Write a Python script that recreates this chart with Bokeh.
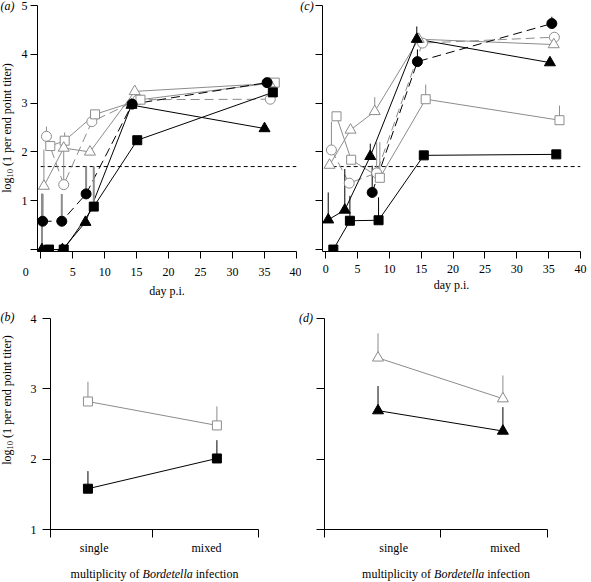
import math
from bokeh.plotting import figure
from bokeh.layouts import row, column
from bokeh.models import FixedTicker, Div
from bokeh.embed import file_html
from bokeh.resources import INLINE

NaN = float("nan")

# ---------------- panel (a) : day p.i. vs log10 titer ----------------
a_fc_day = [0.3, 3.3, 7.1, 14.3, 35.4]
a_fc_val = [0.58, 0.58, 1.14, 2.98, 3.42]
a_fc_err = [1.14, 1.14, 1.70, NaN, NaN]
a_fs_day = [1.3, 3.6, 8.3, 15.1, 36.3]
a_fs_val = [0.0, 0.0, 0.88, 2.24, 3.22]
a_fs_err = [NaN, NaN, 1.70, NaN, NaN]
a_ft_day = [0.2, 3.4, 7.0, 14.2, 35.0]
a_ft_val = [0.0, 0.0, 0.56, 2.96, 2.48]
a_ft_err = [1.15, NaN, NaN, NaN, NaN]
a_oc_day = [0.9, 3.6, 8.0, 15.2, 35.9]
a_oc_val = [2.32, 1.33, 2.62, 3.07, 3.08]
a_oc_err = [2.52, 2.05, NaN, NaN, NaN]
a_os_day = [1.5, 3.75, 8.5, 15.6, 36.6]
a_os_val = [2.12, 2.23, 2.77, 3.07, 3.42]
a_os_err = [NaN, 2.40, NaN, NaN, NaN]
a_ot_day = [0.5, 3.6, 7.7, 14.7, 35.8]
a_ot_val = [1.30, 2.08, 2.00, 3.24, 3.40]
a_ot_err = [2.05, NaN, NaN, NaN, NaN]

# ---------------- panel (c) ----------------
c_fc_day = [7.3, 14.4, 35.5]
c_fc_val = [1.17, 3.85, 4.63]
c_fc_err = [1.72, 4.10, 4.77]
c_fs_day = [1.2, 3.8, 8.3, 15.4, 36.2]
c_fs_val = [0.0, 0.59, 0.60, 1.93, 1.95]
c_fs_err = [NaN, 1.10, 1.07, NaN, NaN]
c_ft_day = [0.4, 3.0, 7.0, 14.3, 35.2]
c_ft_val = [0.61, 0.81, 1.91, 4.31, 3.83]
c_ft_err = [1.17, 1.65, 2.17, 4.57, NaN]
c_oc_day = [0.9, 3.7, 8.0, 15.2, 35.9]
c_oc_val = [2.04, 1.36, 1.57, 4.23, 4.35]
c_oc_err = [2.62, NaN, 2.20, NaN, NaN]
c_os_day = [1.7, 4.0, 8.5, 15.7, 36.7]
c_os_val = [2.73, 1.84, 1.47, 3.08, 2.65]
c_os_err = [NaN, NaN, 2.20, 3.38, 2.95]
c_ot_day = [0.6, 3.9, 7.7, 14.6, 35.8]
c_ot_val = [1.73, 2.45, 2.83, 4.31, 4.20]
c_ot_err = [NaN, NaN, 3.12, NaN, NaN]

detection_limit = 1.7
limit_days = [0, 40]
day_ticks = [0, 5, 10, 15, 20, 25, 30, 35, 40]
titer_ticks = [0, 1, 2, 3, 4, 5]

# ---------------- panels (b) and (d) : multiplicity ----------------
mult_labels = ["single", "mixed"]
b_open_val = [2.82, 2.48]
b_open_err = [3.10, 2.75]
b_fill_val = [1.58, 2.01]
b_fill_err = [1.83, 2.27]
d_open_val = [3.44, 2.86]
d_open_err = [3.79, 3.19]
d_fill_val = [2.69, 2.40]
d_fill_err = [3.04, 2.74]
mult_titer_ticks = [1, 2, 3, 4]

# ---------------- texts ----------------
Y_TITLE_HTML = "log<sub style='font-size:8.5px;vertical-align:-2px'>10</sub> (1 per end point titer)"
X_TITLE_TIME = "day p.i."
X_TITLE_MULT_HTML = "multiplicity of <i>Bordetella</i> infection"

# ---------------- styling / layout (not data) ----------------
FONT = "Liberation Serif"
FS = "12px"
GREY = "#8c8c8c"
DASH = "9 5"
SIZES = {"circle": 10, "square": 9, "triangle": 11}
NBSP = "\u00a0"
b_pos = [0.18, 0.80]
d_pos = [0.24, 0.80]
b_label_pos = [0.21, 0.75]
d_label_pos = [0.31, 0.81]
b_sep = [0, 0.49, 1]
d_sep = [0, 0.52, 1]


def make_fig(w, h, xr, yr, mb):
    p = figure(width=w, height=h, x_range=xr, y_range=yr,
               output_backend="svg", toolbar_location=None,
               min_border_left=mb[0], min_border_right=mb[1],
               min_border_top=mb[2], min_border_bottom=mb[3])
    p.xgrid.visible = False
    p.ygrid.visible = False
    p.outline_line_color = None
    p.background_fill_color = "white"
    p.border_fill_color = "white"
    for ax in p.axis:
        ax.axis_line_color = "black"
        ax.axis_line_width = 1
        ax.major_tick_line_color = "black"
        ax.major_tick_in = 0
        ax.minor_tick_line_color = None
        ax.major_label_text_font = FONT
        ax.major_label_text_font_size = FS
        ax.major_label_text_color = "black"
        ax.axis_label_text_font = FONT
        ax.axis_label_text_font_style = "normal"
        ax.axis_label_text_font_size = FS
        ax.axis_label_text_color = "black"
    return p


def add_line(p, x, y, color, dash="solid"):
    p.line(x, y, line_color=color, line_width=1, line_dash=dash)


def add_err(p, x, y, e, color, width):
    xs, y0, y1 = [], [], []
    for xi, yi, ei in zip(x, y, e):
        if not math.isnan(ei):
            xs.append(xi); y0.append(yi); y1.append(ei)
    if xs:
        p.segment(x0=xs, y0=y0, x1=xs, y1=y1, line_color=color, line_width=width)


def add_pts(p, x, y, marker, filled):
    p.scatter(x, y, marker=marker, size=SIZES[marker],
              fill_color="black" if filled else "white",
              line_color="black" if filled else GREY, line_width=1)


def time_panel(p, S, fc_err_color, fc_err_w):
    (fc, fs, ft, oc, os_, ot) = S
    add_line(p, limit_days, [detection_limit, detection_limit], "black", "4 3")
    add_line(p, oc[0], oc[1], GREY, DASH)
    add_line(p, os_[0], os_[1], GREY)
    add_line(p, ot[0], ot[1], GREY)
    add_line(p, fc[0], fc[1], "black", DASH)
    add_line(p, fs[0], fs[1], "black")
    add_line(p, ft[0], ft[1], "black")
    for s in (oc, os_, ot):
        add_err(p, s[0], s[1], s[2], GREY, 1)
    for s in (fc, fs, ft):
        add_err(p, s[0], s[1], s[2], fc_err_color, fc_err_w)
    add_pts(p, oc[0], oc[1], "circle", False)
    add_pts(p, os_[0], os_[1], "square", False)
    add_pts(p, ot[0], ot[1], "triangle", False)
    add_pts(p, fc[0], fc[1], "circle", True)
    add_pts(p, fs[0], fs[1], "square", True)
    add_pts(p, ft[0], ft[1], "triangle", True)


def style_time_axes(p, show_y_labels, shift_x0):
    xa = p.xaxis[0]
    xa.ticker = FixedTicker(ticks=day_ticks)
    xa.major_tick_out = 7
    xa.major_label_standoff = 6
    xa.axis_label = X_TITLE_TIME
    xa.axis_label_standoff = 2
    if shift_x0:
        # the "0" of panel (a) sits left of the axis corner
        xa.major_label_overrides = {0: "0" + NBSP * 10}
    ya = p.yaxis[0]
    ya.ticker = FixedTicker(ticks=titer_ticks)
    ya.major_tick_out = 7
    ya.major_label_standoff = 3
    if show_y_labels:
        ya.major_label_overrides = {0: ""}
    else:
        ya.major_label_overrides = {t: "" for t in titer_ticks}


def text_div(w, h, items):
    spans = []
    for (x, y, html, italic, rotate) in items:
        tr = "translate(-50%,-50%)" + (" rotate(-90deg)" if rotate else "")
        st = "font-style:italic;" if italic else ""
        spans.append(
            f"<span style=\"position:absolute;left:{x}px;top:{y}px;transform:{tr};"
            f"white-space:nowrap;{st}\">{html}</span>")
    inner = (f"<div style=\"position:relative;width:{w}px;height:{h}px;"
             f"font-family:'{FONT}',serif;font-size:12px;color:#000;line-height:1.15;\">"
             + "".join(spans) + "</div>")
    return Div(text=inner, width=w, height=h, margin=0)


# ---- (a)
pa = make_fig(285, 300, (-0.5, 40), (-0.04, 5), (21, 5, 5, 43))
time_panel(pa, ((a_fc_day, a_fc_val, a_fc_err), (a_fs_day, a_fs_val, a_fs_err),
                (a_ft_day, a_ft_val, a_ft_err), (a_oc_day, a_oc_val, a_oc_err),
                (a_os_day, a_os_val, a_os_err), (a_ot_day, a_ot_val, a_ot_err)),
           GREY, 2)
style_time_axes(pa, True, True)

# ---- (c)
pc = make_fig(276, 300, (-0.5, 40), (-0.04, 5), (7, 11, 5, 43))
time_panel(pc, ((c_fc_day, c_fc_val, c_fc_err), (c_fs_day, c_fs_val, c_fs_err),
                (c_ft_day, c_ft_val, c_ft_err), (c_oc_day, c_oc_val, c_oc_err),
                (c_os_day, c_os_val, c_os_err), (c_ot_day, c_ot_val, c_ot_err)),
           "black", 1)
style_time_axes(pc, False, False)


def mult_panel(p, pos, label_pos, sep, ov, oe, fv, fe, marker, show_y):
    add_line(p, pos, ov, GREY)
    add_line(p, pos, fv, "black")
    add_err(p, pos, ov, oe, GREY, 1)
    add_err(p, pos, fv, fe, "black", 1)
    add_pts(p, pos, ov, marker, False)
    add_pts(p, pos, fv, marker, True)
    xa = p.xaxis[0]
    xa.ticker = FixedTicker(ticks=label_pos, minor_ticks=sep)
    xa.major_tick_out = 0
    xa.major_tick_line_color = None
    xa.minor_tick_line_color = "black"
    xa.minor_tick_out = 8
    xa.minor_tick_in = 0
    xa.major_label_standoff = 3
    xa.major_label_overrides = {label_pos[i]: mult_labels[i] for i in range(len(mult_labels))}
    ya = p.yaxis[0]
    ya.ticker = FixedTicker(ticks=mult_titer_ticks)
    ya.major_tick_out = 8
    ya.major_label_standoff = 6
    if not show_y:
        ya.major_label_overrides = {t: "" for t in mult_titer_ticks}


# ---- (b)
pb = make_fig(285, 265, (0, 1), (1, 4), (34, 43, 18, 36))
mult_panel(pb, b_pos, b_label_pos, b_sep, b_open_val, b_open_err, b_fill_val, b_fill_err,
           "square", True)

# ---- (d)
pd_ = make_fig(276, 265, (0, 1), (1, 4), (9, 44, 18, 36))
mult_panel(pd_, d_pos, d_label_pos, d_sep, d_open_val, d_open_err, d_fill_val, d_fill_err,
           "triangle", False)

div_a = text_div(16, 300, [(7.5, 7, "(a)", True, False), (7.5, 128, Y_TITLE_HTML, False, True)])
div_c = text_div(14, 300, [(6, 7, "(c)", True, False)])
div_b = text_div(16, 282, [(7.5, 18, "(b)", True, False), (8, 100, Y_TITLE_HTML, False, True)])
div_d = text_div(14, 282, [(5, 19, "(d)", True, False)])
div_bt = text_div(285, 17, [(138.5, 10, X_TITLE_MULT_HTML, False, False)])
div_dt = text_div(276, 17, [(131, 10, X_TITLE_MULT_HTML, False, False)])

top = row(div_a, pa, div_c, pc)
bottom = row(div_b, column(pb, div_bt), div_d, column(pd_, div_dt))
layout = column(top, bottom)

open("out.html", "w").write(file_html(layout, INLINE))
